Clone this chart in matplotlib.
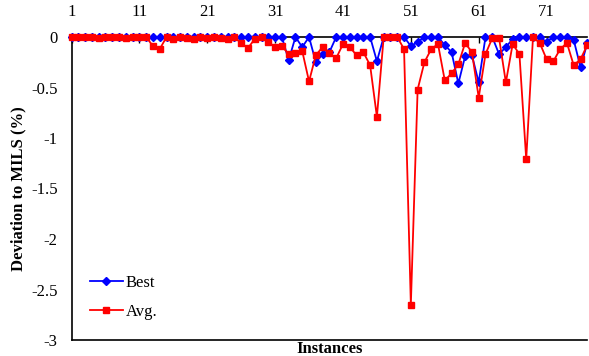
import matplotlib
matplotlib.use("Agg")
import matplotlib.pyplot as plt
import numpy as np

# ---- data ----
instances = list(range(1, 78))
best = [0, 0, 0, 0, 0, 0, 0, 0, 0, 0,
        0, 0, 0, 0, 0, 0, 0, 0, 0, 0,
        0, 0, 0, 0, 0, 0, 0, 0, 0, 0,
        0, 0, -0.23, 0, -0.10, 0, -0.25, -0.17, -0.15, 0,
        0, 0, 0, 0, 0, -0.24, 0, 0, 0, 0,
        -0.09, -0.05, 0, 0, 0, -0.08, -0.15, -0.46, -0.19, -0.18,
        -0.45, 0, 0, -0.17, -0.10, -0.02, 0, 0, 0, 0,
        -0.05, 0, 0, 0, -0.03, -0.30, -0.06]
avg = [0, 0, 0, 0, -0.01, 0, 0, 0, -0.01, 0,
       0, 0, -0.09, -0.12, 0, -0.02, 0, -0.01, -0.02, 0,
       -0.01, 0, -0.01, -0.02, 0, -0.06, -0.11, -0.02, 0, -0.05,
       -0.10, -0.09, -0.17, -0.16, -0.14, -0.44, -0.18, -0.10, -0.16, -0.21,
       -0.07, -0.10, -0.18, -0.15, -0.28, -0.79, 0, 0, 0, -0.12,
       -2.65, -0.52, -0.25, -0.12, -0.07, -0.43, -0.36, -0.27, -0.06, -0.15,
       -0.60, -0.17, -0.01, -0.01, -0.45, -0.07, -0.17, -1.21, 0, -0.06,
       -0.22, -0.24, -0.12, -0.06, -0.28, -0.22, -0.08]
xticks = [1, 11, 21, 31, 41, 51, 61, 71]
yticks = [0, -0.5, -1, -1.5, -2, -2.5, -3]
ytick_labels = ["0", "-0.5", "-1", "-1.5", "-2", "-2.5", "-3"]

plt.rcParams['font.family'] = ['Liberation Serif', 'DejaVu Serif']
plt.rcParams['font.size'] = 12

W, H = 589, 356
fig = plt.figure(figsize=(W / 100, H / 100), dpi=100)
left_px, right_px, top_px, bot_px = 71.5, 587.3, 37, 340
ax = fig.add_axes([left_px / W, 1 - bot_px / H, (right_px - left_px) / W, (bot_px - top_px) / H])

ax.plot(instances, best, color='#0000FF', marker='D', markersize=4.0, linewidth=1.3,
        label='Best', clip_on=False, zorder=3)
ax.plot(instances, avg, color='#FF0000', marker='s', markersize=5.0, linewidth=1.3,
        label='Avg.', clip_on=False, zorder=4)

ax.set_xlim(1, 77)
ax.set_ylim(-3, 0)
ax.xaxis.tick_top()
ax.set_xticks(xticks)
ax.set_xticklabels([str(t) for t in xticks])
ax.tick_params(axis='x', direction='in', length=4, width=1, pad=12, labelsize=12)
ax.set_yticks(yticks)
ax.set_yticklabels(ytick_labels)
ax.tick_params(axis='y', length=0, pad=10, labelsize=12)

for s in ['top', 'left', 'bottom']:
    ax.spines[s].set_linewidth(1.2)
    ax.spines[s].set_color('black')
ax.spines['right'].set_visible(False)

fig.text((left_px + right_px) / 2 / W, 1 - 349 / H, 'Instances', ha='center', va='center',
         fontweight='bold', fontsize=12)
fig.text(18 / W, 1 - 189 / H, 'Deviation to MILS (%)', ha='center', va='center',
         rotation=90, fontweight='bold', fontsize=12)

ax.legend(loc='upper left', bbox_to_anchor=(90 / W, 1 - 275 / H), bbox_transform=fig.transFigure,
          frameon=False, borderpad=0, borderaxespad=0, handlelength=1.96, handletextpad=0.2,
          labelspacing=0.75, fontsize=12)

fig.savefig('out.png', dpi=100)
